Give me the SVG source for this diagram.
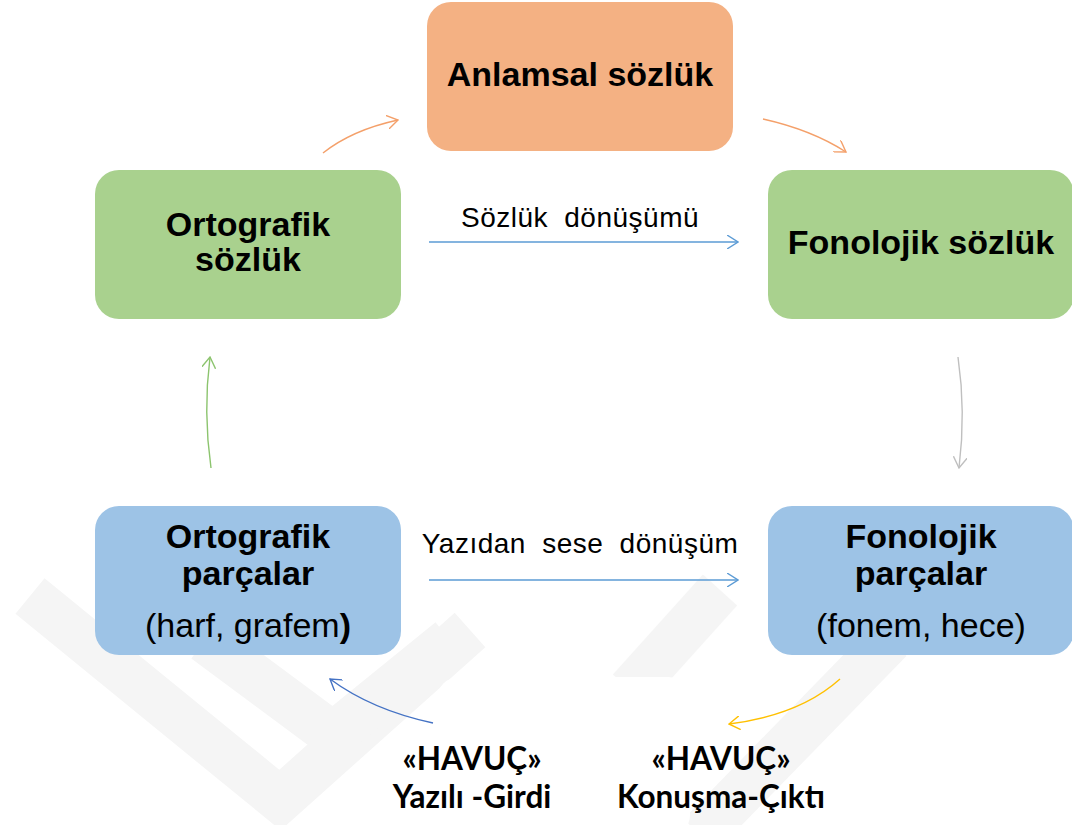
<svg xmlns="http://www.w3.org/2000/svg" width="1072" height="825" viewBox="0 0 1072 825">
<defs>
<style>
.box{stroke:none}
.t{font-family:"Liberation Sans",Arial,sans-serif;font-size:34px;text-anchor:middle;fill:#000}
.b{font-weight:bold}
.lbl{font-family:"Liberation Sans",Arial,sans-serif;font-size:28px;text-anchor:middle;fill:#000;word-spacing:8px;letter-spacing:0.5px}
.h{font-family:Lato,"Open Sans",sans-serif;font-weight:bold;font-size:31.5px;text-anchor:middle;fill:#000}
.c{fill:none;stroke-width:1.4}
.wm{fill:none;stroke:#f5f5f5;stroke-width:46;stroke-linejoin:miter}
</style>
<marker id="aO" viewBox="0 0 12 14" refX="11" refY="7" markerWidth="12" markerHeight="14" markerUnits="userSpaceOnUse" orient="auto"><path d="M0,0 L11,7 L0,14" fill="none" stroke="#F4A06A" stroke-width="1.4"/></marker>
<marker id="aB" viewBox="0 0 12 14" refX="11" refY="7" markerWidth="12" markerHeight="14" markerUnits="userSpaceOnUse" orient="auto"><path d="M0,0 L11,7 L0,14" fill="none" stroke="#5B9BD5" stroke-width="1.4"/></marker>
<marker id="aD" viewBox="0 0 12 14" refX="11" refY="7" markerWidth="12" markerHeight="14" markerUnits="userSpaceOnUse" orient="auto"><path d="M0,0 L11,7 L0,14" fill="none" stroke="#4472C4" stroke-width="1.4"/></marker>
<marker id="aG" viewBox="0 0 12 14" refX="11" refY="7" markerWidth="12" markerHeight="14" markerUnits="userSpaceOnUse" orient="auto"><path d="M0,0 L11,7 L0,14" fill="none" stroke="#BFBFBF" stroke-width="1.4"/></marker>
<marker id="aN" viewBox="0 0 12 14" refX="11" refY="7" markerWidth="12" markerHeight="14" markerUnits="userSpaceOnUse" orient="auto"><path d="M0,0 L11,7 L0,14" fill="none" stroke="#8CC46E" stroke-width="1.4"/></marker>
<marker id="aY" viewBox="0 0 12 14" refX="11" refY="7" markerWidth="12" markerHeight="14" markerUnits="userSpaceOnUse" orient="auto"><path d="M0,0 L11,7 L0,14" fill="none" stroke="#FFC000" stroke-width="1.4"/></marker>
</defs>
<rect width="1072" height="825" fill="#fff"/>
<g id="watermark">
<polyline class="wm" points="30,596 280,800 470,630"/>
<polyline class="wm" points="205,640 333,735 450,640"/>
<polyline class="wm" points="890,640 700,835"/>
<polyline class="wm" points="720,590 630,690"/>
<rect x="437" y="677" width="253" height="160" rx="22" fill="#fff"/>
</g>
<g id="connectors">
<path class="c" d="M323,153 Q352,130 398,120" stroke="#F4A06A" marker-end="url(#aO)"/>
<path class="c" d="M763,119 Q812,130 846,152" stroke="#F4A06A" marker-end="url(#aO)"/>
<path class="c" d="M429,242 L738,242" stroke="#5B9BD5" marker-end="url(#aB)"/>
<path class="c" d="M958,357 Q966,412 959,468" stroke="#BFBFBF" marker-end="url(#aG)"/>
<path class="c" d="M211,468 Q203,412 210,357" stroke="#8CC46E" marker-end="url(#aN)"/>
<path class="c" d="M429,580 L738,580" stroke="#5B9BD5" marker-end="url(#aB)"/>
<path class="c" d="M433,723 Q372,710 330,679" stroke="#4472C4" marker-end="url(#aD)"/>
<path class="c" d="M840,679 Q800,715 729,724" stroke="#FFC000" marker-end="url(#aY)"/>
<text class="lbl" x="580" y="227">Sözlük dönüşümü</text>
<text class="lbl" x="580" y="553">Yazıdan sese dönüşüm</text>
</g>
<g id="anlamsal">
<rect class="box" x="427" y="2" width="306" height="149" rx="24" fill="#F4B183"/>
<text class="t b" x="580" y="86">Anlamsal sözlük</text>
</g>
<g id="ortografik-sozluk">
<rect class="box" x="95" y="170" width="306" height="149" rx="24" fill="#A9D18E"/>
<text class="t b" x="248" y="236">Ortografik</text>
<text class="t b" x="248" y="271">sözlük</text>
</g>
<g id="fonolojik-sozluk">
<rect class="box" x="768" y="170" width="306" height="149" rx="24" fill="#A9D18E"/>
<text class="t b" x="921" y="254">Fonolojik sözlük</text>
</g>
<g id="ortografik-parcalar">
<rect class="box" x="95" y="506" width="306" height="149" rx="24" fill="#9DC3E6"/>
<text class="t b" x="248" y="548">Ortografik</text>
<text class="t b" x="248" y="585">parçalar</text>
<text class="t" x="248" y="637">(harf, grafem<tspan font-weight="bold">)</tspan></text>
</g>
<g id="fonolojik-parcalar">
<rect class="box" x="768" y="506" width="306" height="149" rx="24" fill="#9DC3E6"/>
<text class="t b" x="921" y="548">Fonolojik</text>
<text class="t b" x="921" y="585">parçalar</text>
<text class="t" x="921" y="637">(fonem, hece)</text>
</g>
<g id="havuc-girdi">
<text class="h" x="472" y="770">«HAVUÇ»</text>
<text class="h" x="472" y="808">Yazılı -Girdi</text>
</g>
<g id="havuc-cikti">
<text class="h" x="721" y="770">«HAVUÇ»</text>
<text class="h" x="721" y="808">Konuşma-Çıktı</text>
</g>
</svg>
